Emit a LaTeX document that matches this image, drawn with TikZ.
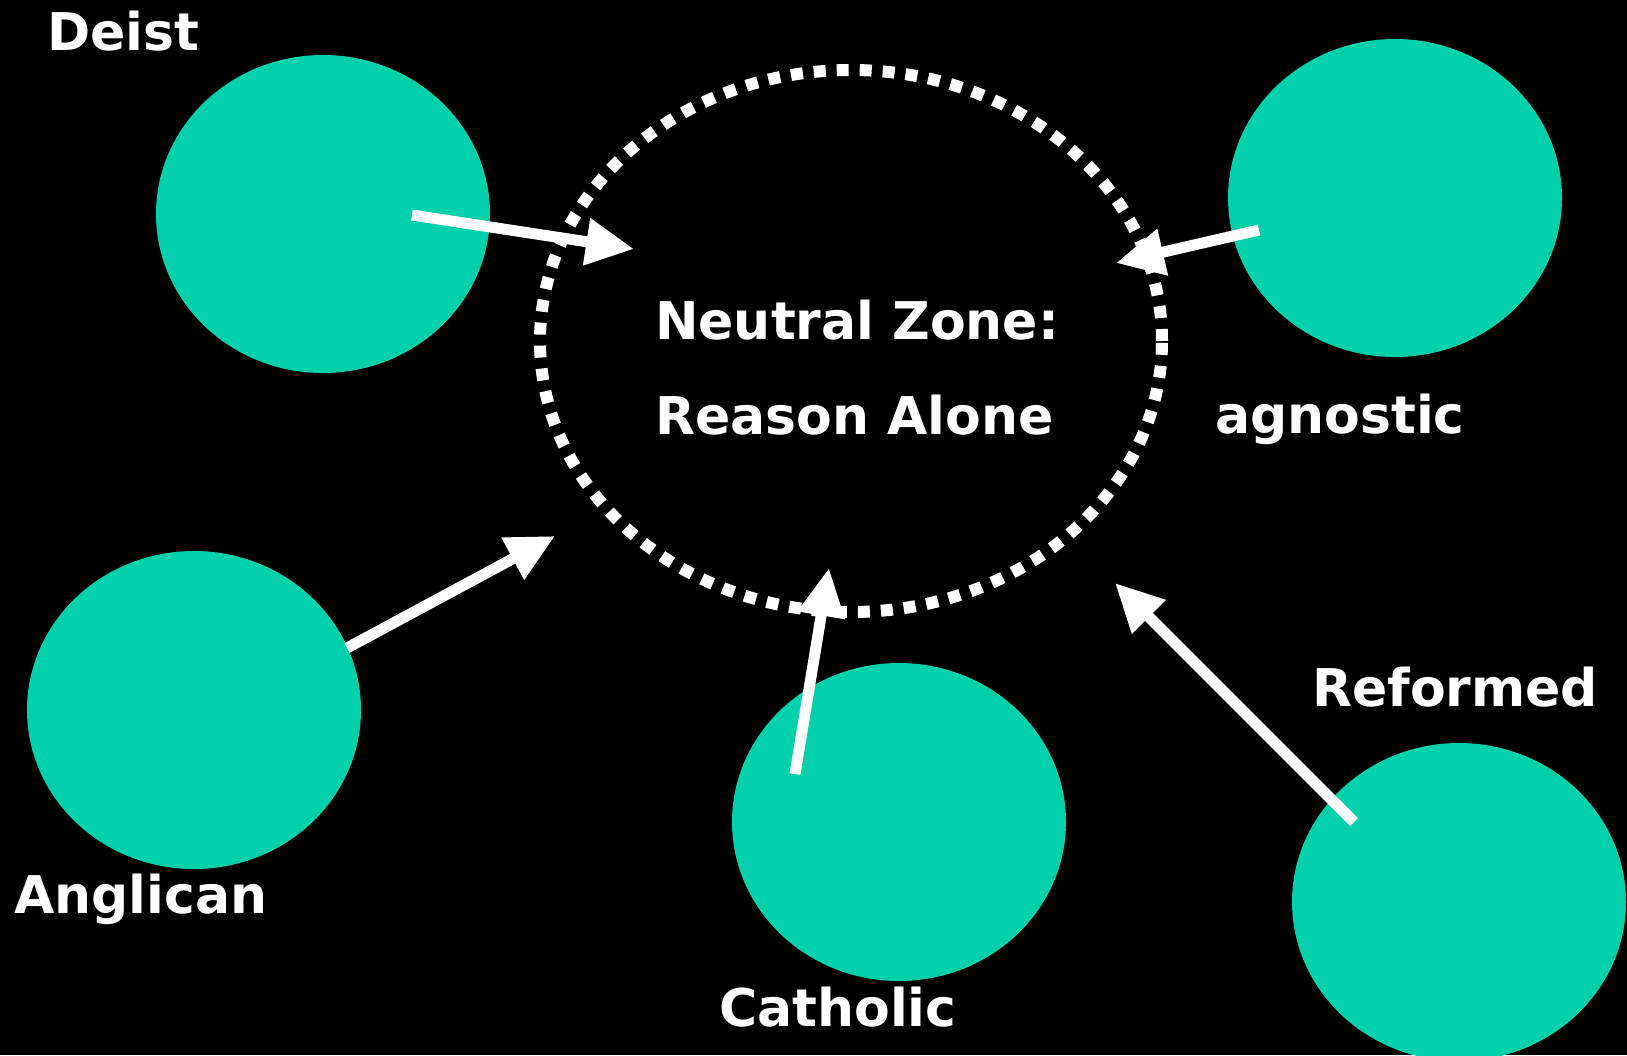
\documentclass[tikz,border=0pt]{standalone}
\usepackage{fontspec}
\setmainfont{DejaVu Sans}
\usetikzlibrary{positioning,arrows.meta,shapes.geometric}
\definecolor{verde}{RGB}{0,209,170}

\begin{document}
\begin{tikzpicture}[x=1pt, y=-1pt,
  grupo/.style={ellipse, fill=verde, minimum width=334pt, minimum height=318pt, inner sep=0pt},
  zona/.style={ellipse, draw=white, line width=12pt, dash pattern=on 12pt off 11pt, minimum width=622pt, minimum height=542pt, inner sep=0pt},
  etiqueta/.style={text=white, font=\fontsize{52}{60}\selectfont\bfseries, anchor=base west, inner sep=0pt},
  flecha/.style={draw=white, line width=11pt, -{Triangle[length=48pt, width=45pt]}}
]
\fill[black] (0,0) rectangle (1627,1055);
\useasboundingbox (0,0) rectangle (1627,1055);

\node[grupo] (deist)    at (323,214)  {};
\node[grupo] (agnostic) at (1395,198) {};
\node[grupo] (anglican) at (194,710)  {};
\node[grupo] (catholic) at (899,822)  {};
\node[grupo] (reformed) at (1459,902) {};
\node[zona]  (neutral)  at (851,341)  {};

\coordinate (deist-a)    at (412,215);  \coordinate (deist-b)    at (634,249);
\coordinate (agnostic-a) at (1259,230); \coordinate (agnostic-b) at (1116,263);
\coordinate (anglican-a) at (347,648);  \coordinate (anglican-b) at (555,536);
\coordinate (catholic-a) at (795,774);  \coordinate (catholic-b) at (829,568);
\coordinate (reformed-a) at (1354,822); \coordinate (reformed-b) at (1115,583);

\draw[flecha] (deist-a) -- (deist-b);
\draw[flecha] (agnostic-a) -- (agnostic-b);
\draw[flecha] (anglican-a) -- (anglican-b);
\draw[flecha] (catholic-a) -- (catholic-b);
\draw[flecha] (reformed-a) -- (reformed-b);

\node[etiqueta] (zona1)        at (655,339)  {Neutral Zone:};
\node[etiqueta] (zona2)        at (655,434)  {Reason Alone};
\node[etiqueta] (deist-t)      at (47,50)    {Deist};
\node[etiqueta] (agnostic-t)   at (1215,433) {agnostic};
\node[etiqueta] (reformed-t)   at (1312,706) {Reformed};
\node[etiqueta] (anglican-t)   at (14,913)   {Anglican};
\node[etiqueta] (catholic-t)   at (719,1026) {Catholic};
\end{tikzpicture}
\end{document}
